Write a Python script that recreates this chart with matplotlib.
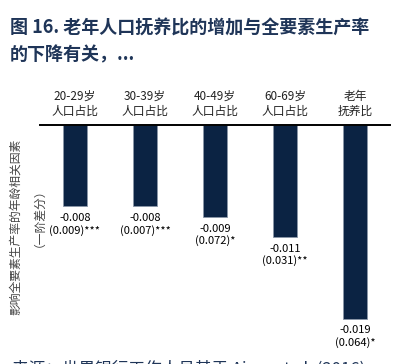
import matplotlib.pyplot as plt
import numpy as np

plt.rcParams['font.family'] = ['Noto Sans CJK SC', 'DejaVu Sans']

categories = ['20-29岁\n人口占比', '30-39岁\n人口占比', '40-49岁\n人口占比',
              '60-69岁\n人口占比', '老年\n抚养比']
coefs = [-0.008, -0.008, -0.009, -0.011, -0.019]
pvals = ['(0.009)***', '(0.007)***', '(0.072)*', '(0.031)**', '(0.064)*']

navy = '#0b2343'
W, H = 403, 364
fig = plt.figure(figsize=(W / 100, H / 100), dpi=100)

# axes: zero line at y=125px, left 40px, right 390px
ax = fig.add_axes([40 / W, (H - 345) / H, 350 / W, 220 / H])
x = np.arange(len(coefs))
ax.bar(x, coefs, width=0.33, color=navy, edgecolor='#8a96a8', linewidth=0.6)
ax.set_xlim(-0.5, len(coefs) - 0.5)
ax.set_ylim(-0.0216, 0)
ax.axhline(0, color='black', lw=1.4, clip_on=False)
for s in ax.spines.values():
    s.set_visible(False)
ax.set_xticks([])
ax.set_yticks([])

for i, (c, p) in enumerate(zip(coefs, pvals)):
    ax.annotate(f'{c:.3f}\n{p}', (i, c), xytext=(0, -5), textcoords='offset points',
                ha='center', va='top', fontsize=8, color='black',
                linespacing=1.15, annotation_clip=False)
    ax.annotate(categories[i], (i, 0), xytext=(0, 5), textcoords='offset points',
                ha='center', va='bottom', fontsize=8.5, color='#222222',
                linespacing=1.25, annotation_clip=False)

# y label
fig.text(15 / W, 1 - 227 / H, '影响全要素生产率的年龄相关因素', rotation=90,
         ha='center', va='center', fontsize=8.5, color='#444444')
fig.text(33 / W, 1 - 212 / H, '（一阶差分）', rotation=90,
         ha='center', va='center', fontsize=8.5, color='#444444')

# title
fig.text(10 / W, 1 - 28 / H, '图 16. 老年人口抚养比的增加与全要素生产率',
         ha='left', va='center', fontsize=13, fontweight='bold', color='#1f3558')
fig.text(10 / W, 1 - 55 / H, '的下降有关，...',
         ha='left', va='center', fontsize=13, fontweight='bold', color='#1f3558')

# source line, cut off at the bottom edge as in the original
fig.text(12 / W, 1 - 360 / H, '来源：世界银行工作人员基于 Aiyar et al. (2016)',
         ha='left', va='top', fontsize=12, color='#1f3558')

fig.savefig('out.png', dpi=100)
